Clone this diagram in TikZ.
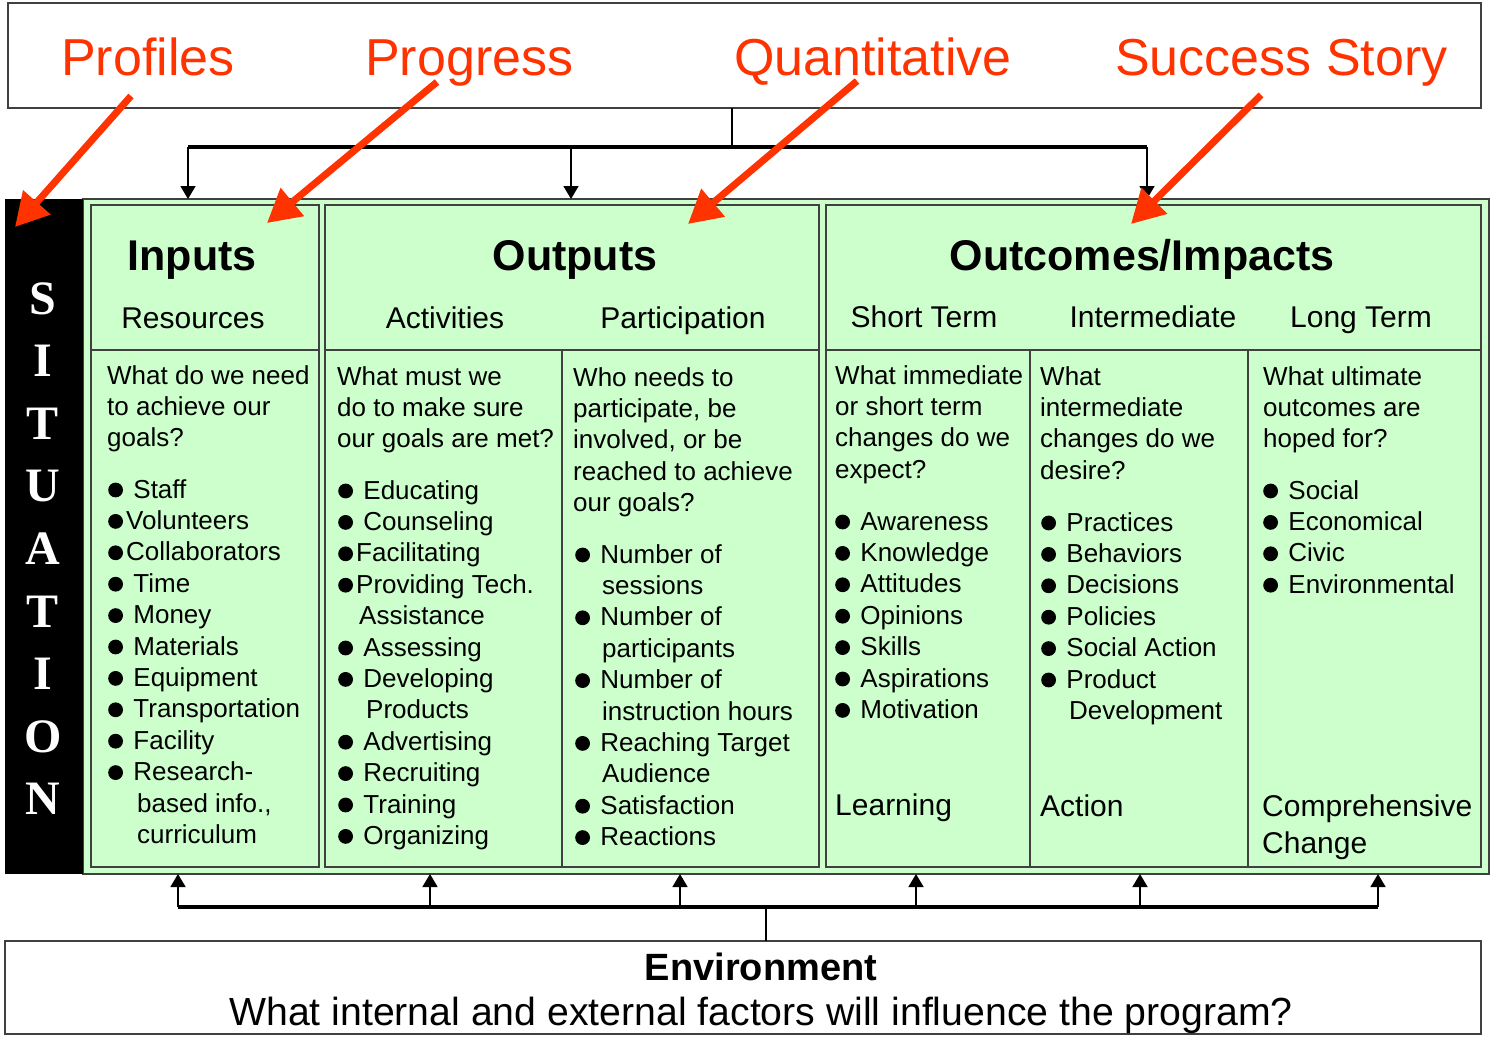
\documentclass[tikz,border=0pt]{standalone}
\usepackage{fontspec}
\setmainfont{Liberation Sans}
\newfontfamily\sitfont{Liberation Serif}
\usetikzlibrary{arrows.meta}
\definecolor{grn}{HTML}{CCFFCC}
\definecolor{redo}{HTML}{FF3300}
\definecolor{bord}{HTML}{404040}
\tikzset{
  box/.style={draw=bord, line width=1.3pt, inner sep=0pt, outer sep=0pt, anchor=north west},
  body/.style={anchor=base west, inner sep=0pt, font=\fontsize{26}{31}\selectfont},
  sub/.style={anchor=base, inner sep=0pt, font=\fontsize{30}{36}\selectfont},
  sublft/.style={anchor=base west, inner sep=0pt, font=\fontsize{30}{36}\selectfont},
  ttl/.style={anchor=base, inner sep=0pt, font=\fontsize{43}{50}\selectfont\bfseries},
  redlbl/.style={anchor=base west, inner sep=0pt, text=redo, font=\fontsize{52}{60}\selectfont},
  sit/.style={anchor=base, inner sep=0pt, text=white, font=\fontsize{48}{56}\selectfont\sitfont\bfseries},
  thickc/.style={line width=4pt, black},
  thinc/.style={line width=1.5pt, black},
  tipc/.style={-{Triangle[width=15pt,length=13pt]}},
  redarrow/.style={draw=redo, line width=7pt, -{Triangle[width=35pt,length=33pt]}},
  divl/.style={draw=bord, line width=1.3pt},
}
\newcommand\B{\makebox[18pt][l]{\tikz[baseline=0pt]\fill (7.5pt,8pt) circle[radius=7.4pt];}}
\newcommand\txtcol[5]{%
  \foreach [count=\i] \t in {#5}
    \node[body] (#1\i) at (#2, {#3+(\i-1)*#4}) {\t};}
\begin{document}
\begin{tikzpicture}[x=1pt,y=-1pt]
\useasboundingbox (0,0) rectangle (1493,1036);
\fill[white] (0,0) rectangle (1493,1036);

% top box with red labels
\node[box, minimum width=1473pt, minimum height=105pt] (top) at (8,3) {};
\node[redlbl] (lprof) at (61,75) {Profiles};
\node[redlbl] (lprog) at (365,75) {Progress};
\node[redlbl] (lquan) at (734,75) {Quantitative};
\node[redlbl] (lsucc) at (1115,75) {Success Story};

% main green area and situation bar
\node[box, fill=grn, minimum width=1406pt, minimum height=675pt] (green) at (83,199) {};
\node[fill=black, inner sep=0pt, outer sep=0pt, anchor=north west, minimum width=78pt, minimum height=675pt] (bar) at (5,199) {};
\foreach [count=\k from 0] \L in {S,I,T,U,A,T,I,O,N}
  \node[sit] (sit\k) at (43, {314+\k*62.6}) {\L};

% inner boxes
\node[box, minimum width=228pt, minimum height=662pt] (inp) at (91,205) {};
\node[box, minimum width=494pt, minimum height=662pt] (outp) at (325,205) {};
\node[box, minimum width=655pt, minimum height=662pt] (outc) at (826,205) {};
\draw[divl] (91,350) -- (319,350);
\draw[divl] (325,350) -- (819,350);
\draw[divl] (826,350) -- (1481,350);
\draw[divl] (562,350) -- (562,867);
\draw[divl] (1030,350) -- (1030,867);
\draw[divl] (1248,350) -- (1248,867);

% titles
\node[ttl] (tinp) at (192,270) {Inputs};
\node[ttl] (toutp) at (575,270) {Outputs};
\node[ttl] (toutc) at (1142,270) {Outcomes/Impacts};
\node[sub] (sres) at (193,328) {Resources};
\node[sub] (sact) at (445,328) {Activities};
\node[sub] (spar) at (683,328) {Participation};
\node[sub] (sst) at (924,327) {Short Term};
\node[sub] (sint) at (1153,327) {Intermediate};
\node[sub] (slt) at (1361,327) {Long Term};

% Inputs column
\txtcol{qa}{107}{384}{31.4}{What do we need, to achieve our, goals?}
\txtcol{ba}{108}{498}{31.4}{\B{} Staff, \B{}Volunteers, \B{}Collaborators, \B{} Time, \B{} Money, \B{} Materials, \B{} Equipment, \B{} Transportation, \B{} Facility, \B{} Research-, {\hspace*{29pt}based info.,}, \hspace*{29pt}curriculum}

% Activities column
\txtcol{qb}{337}{385}{31.4}{What must we, do to make sure, our goals are met?}
\txtcol{bb}{338}{499}{31.4}{\B{} Educating, \B{} Counseling, \B{}Facilitating, \B{}Providing Tech., \hspace*{21pt}Assistance, \B{} Assessing, \B{} Developing, \hspace*{28pt}Products, \B{} Advertising, \B{} Recruiting, \B{} Training, \B{} Organizing}

% Participation column
\txtcol{qc}{573}{386}{31.4}{Who needs to, {participate, be}, {involved, or be}, reached to achieve, our goals?}
\txtcol{bc}{575}{563}{31.4}{\B{} Number of, \hspace*{27pt}sessions, \B{} Number of, \hspace*{27pt}participants, \B{} Number of, \hspace*{27pt}instruction hours, \B{} Reaching Target, \hspace*{27pt}Audience, \B{} Satisfaction, \B{} Reactions}

% Short term column
\txtcol{qd}{835}{384}{31.4}{What immediate, or short term, changes do we, expect?}
\txtcol{bd}{835}{530}{31.4}{\B{} Awareness, \B{} Knowledge, \B{} Attitudes, \B{} Opinions, \B{} Skills, \B{} Aspirations, \B{} Motivation}
\node[sublft] (llearn) at (835,815) {Learning};

% Intermediate column
\txtcol{qe}{1040}{385}{31.4}{What, intermediate, changes do we, desire?}
\txtcol{be}{1041}{531}{31.4}{\B{} Practices, \B{} Behaviors, \B{} Decisions, \B{} Policies, \B{} Social Action, \B{} Product, \hspace*{28pt}Development}
\node[sublft] (lact) at (1040,816) {Action};

% Long term column
\txtcol{qf}{1263}{385}{31.4}{What ultimate, outcomes are, hoped for?}
\txtcol{bf}{1263}{499}{31.4}{\B{} Social, \B{} Economical, \B{} Civic, \B{} Environmental}
\node[sublft] (lcomp) at (1262,816) {Comprehensive};
\node[sublft] (lchg) at (1262,853) {Change};

% environment box
\node[box, minimum width=1476pt, minimum height=93pt] (env) at (5,941) {};
\node[anchor=base, inner sep=0pt, font=\fontsize{38}{44}\selectfont\bfseries] (envt) at (761,980) {Environment};
\node[anchor=base, inner sep=0pt, font=\fontsize{39.2}{44}\selectfont] (envq) at (761,1025) {What internal and external factors will influence the program?};

% top connectors
\coordinate (tj) at (732,147);
\coordinate (ta) at (188,147);
\coordinate (tb) at (571,147);
\coordinate (tc) at (1147,147);
\draw[thinc] (top.south -| tj) -- (tj);
\draw[thickc] (ta) -- (tc);
\foreach \c in {ta,tb,tc}
  \draw[thinc, tipc] (\c) -- (\c |- green.north);

% bottom connectors
\coordinate (bj) at (766,907);
\foreach \n/\x in {1/178,2/430,3/680,4/916,5/1140,6/1378}
  \coordinate (b\n) at (\x,907);
\draw[thickc] (b1) -- (b6);
\draw[thinc] (env.north -| bj) -- (bj);
\foreach \n in {1,...,6}
  \draw[thinc, tipc] (b\n) -- (b\n |- green.south);

% red arrows
\coordinate (ra1) at (131,96);
\coordinate (rb1) at (15,227);
\coordinate (ra2) at (437,82);
\coordinate (rb2) at (267,223);
\coordinate (ra3) at (857,81);
\coordinate (rb3) at (688,224);
\coordinate (ra4) at (1261,95);
\coordinate (rb4) at (1131,224);
\foreach \n in {1,2,3,4}
  \draw[redarrow] (ra\n) -- (rb\n);
\end{tikzpicture}
\end{document}
